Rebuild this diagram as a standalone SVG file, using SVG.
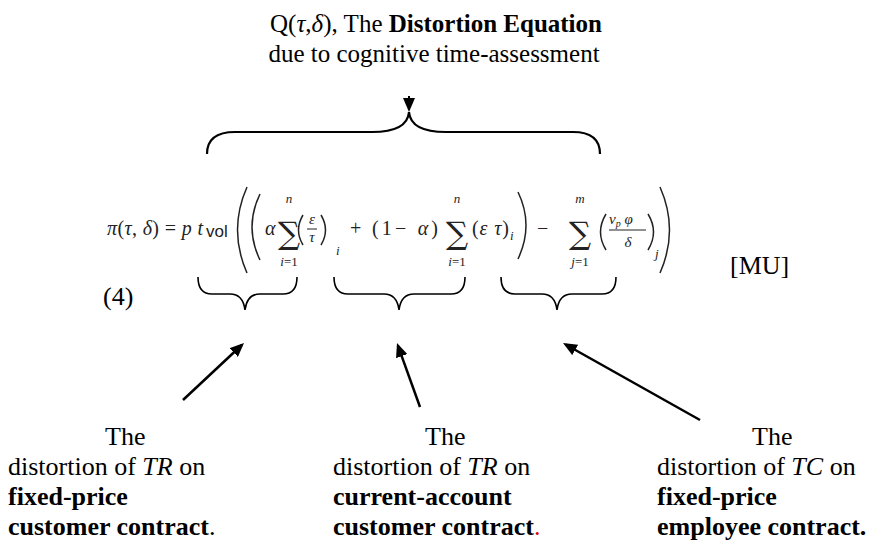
<svg xmlns="http://www.w3.org/2000/svg" width="874" height="540" viewBox="0 0 874 540">
<defs>
<style>
.t{font-family:"Liberation Serif","Times New Roman","DejaVu Serif",serif;font-size:26px;fill:#000}
.tt{font-size:25px}
.b{font-weight:bold}
.i{font-style:italic}
.m{font-family:"Liberation Serif","Times New Roman","DejaVu Serif",serif;font-size:20px;fill:#222}
.ms{font-family:"Liberation Serif","Times New Roman","DejaVu Serif",serif;font-size:13px;fill:#222}
.mf{font-family:"Liberation Serif","Times New Roman","DejaVu Serif",serif;font-size:15px;fill:#222}
.sig{font-family:"DejaVu Serif","Liberation Serif",serif;font-size:31px;fill:#222}
.brace{fill:none;stroke:#000;stroke-width:1.6}
.paren{fill:none;stroke:#222;stroke-width:1.5}
.arr{fill:none;stroke:#000;stroke-width:2.5}
</style>
<marker id="ah" viewBox="0 0 14 12" refX="11" refY="6" markerWidth="14" markerHeight="12" markerUnits="userSpaceOnUse" orient="auto">
<path d="M0,0 L14,6 L0,12 z" fill="#000"/>
</marker>
</defs>
<rect width="874" height="540" fill="#fff"/>

<g id="title">
<text class="t tt" x="436" y="32" text-anchor="middle">Q(<tspan class="i">τ</tspan>,<tspan class="i">δ</tspan>), The <tspan class="b">Distortion Equation</tspan></text>
<text class="t tt" x="434" y="62" text-anchor="middle">due to cognitive time-assessment</text>
</g>

<g id="top-brace">
<path class="brace" style="stroke-width:2.2" d="M207,154 Q207,132 235,132 L372,132 C398,132 408,124 409,112 C410,124 420,132 446,132 L573,132 Q600,132 600,154"/>
</g>

<g id="equation" transform="translate(0,3)">
<text class="m" x="107" y="232" textLength="96" lengthAdjust="spacing"><tspan class="i">π</tspan>(<tspan class="i">τ</tspan>, <tspan class="i">δ</tspan>) = <tspan class="i">p t</tspan></text>
<text x="206" y="234" style="font-family:'Liberation Sans',Arial,sans-serif;font-size:17px;fill:#222">vol</text>
<path class="paren" d="M247,184 Q228,227 247,270"/>
<path class="paren" d="M260,191 Q244,224 260,257"/>
<text class="m i" x="265" y="232">α</text>
<text class="ms i" x="289" y="200" text-anchor="middle">n</text>
<text class="sig" x="289" y="241" text-anchor="middle">∑</text>
<text class="ms" x="289" y="263" text-anchor="middle"><tspan class="i">i</tspan>=1</text>
<path class="paren" d="M303,212 Q294,227 303,242"/>
<text class="mf i" x="312" y="221" text-anchor="middle">ε</text>
<line x1="307" y1="226" x2="317" y2="226" stroke="#222" stroke-width="1"/>
<text class="mf i" x="312" y="239" text-anchor="middle">τ</text>
<path class="paren" d="M321,212 Q330,227 321,242"/>
<text class="ms i" x="336" y="252">i</text>
<text class="m" x="350" y="232">+</text>
<text class="m" x="372" y="232" textLength="66" lengthAdjust="spacing">(1−  <tspan class="i">α</tspan>)</text>
<text class="ms i" x="457" y="200" text-anchor="middle">n</text>
<text class="sig" x="457" y="241" text-anchor="middle">∑</text>
<text class="ms" x="457" y="263" text-anchor="middle"><tspan class="i">i</tspan>=1</text>
<text class="m" x="472" y="232" textLength="37" lengthAdjust="spacing">(<tspan class="i">ε τ</tspan>)</text>
<text class="ms i" x="510" y="237">i</text>
<path class="paren" d="M518,189 Q534,222 518,256"/>
<text class="m" x="537" y="232">−</text>
<text class="ms i" x="580" y="200" text-anchor="middle">m</text>
<text class="sig" x="580" y="241" text-anchor="middle">∑</text>
<text class="ms" x="580" y="263" text-anchor="middle"><tspan class="i">j</tspan>=1</text>
<path class="paren" d="M606,211 Q595,229 606,247"/>
<text class="mf i" x="609" y="221">ν<tspan style="font-size:10px" dy="3">p</tspan><tspan dy="-3"> φ</tspan></text>
<line x1="609" y1="227" x2="646" y2="227" stroke="#222" stroke-width="1"/>
<text class="mf i" x="628" y="244" text-anchor="middle">δ</text>
<path class="paren" d="M648,211 Q659,229 648,247"/>
<text class="ms i" x="655" y="255">j</text>
<path class="paren" d="M660,184 Q679,227 660,270"/>
</g>

<g id="eq-number"><text class="t" x="103" y="305">(4)</text></g>
<g id="unit"><text class="t" x="730" y="274">[MU]</text></g>

<g id="brace-1"><path class="brace" d="M198,277 Q198,294 212,294 L230,294 Q243,294 245,310 Q247,294 260,294 L283,294 Q297,294 297,277"/></g>
<g id="brace-2"><path class="brace" d="M334,277 Q334,294 348,294 L384,294 Q397,294 399,310 Q401,294 414,294 L451,294 Q465,294 465,277"/></g>
<g id="brace-3"><path class="brace" d="M501,277 Q501,294 515,294 L542,294 Q555,294 557,310 Q559,294 572,294 L602,294 Q616,294 616,277"/></g>

<g id="connectors">
<line class="arr" style="stroke-width:2" x1="409" y1="96" x2="409" y2="109" marker-end="url(#ah)"/>
<line class="arr" x1="183" y1="400" x2="241.8" y2="345" marker-end="url(#ah)"/>
<line class="arr" x1="420" y1="407" x2="398" y2="345.8" marker-end="url(#ah)"/>
<line class="arr" x1="700" y1="420" x2="565.6" y2="344.5" marker-end="url(#ah)"/>
</g>

<g id="label-1">
<text class="t" x="105" y="445">The</text>
<text class="t" x="8" y="475">distortion of <tspan class="i">TR</tspan> on</text>
<text class="t b" x="8" y="505">fixed-price</text>
<text class="t" x="8" y="535"><tspan class="b">customer contract</tspan>.</text>
</g>
<g id="label-2">
<text class="t" x="425" y="445">The</text>
<text class="t" x="333" y="475">distortion of <tspan class="i">TR</tspan> on</text>
<text class="t b" x="333" y="505">current-account</text>
<text class="t" x="333" y="535"><tspan class="b">customer contract</tspan><tspan fill="#e00000">.</tspan></text>
</g>
<g id="label-3">
<text class="t" x="752" y="445">The</text>
<text class="t" x="657" y="475">distortion of <tspan class="i">TC</tspan> on</text>
<text class="t b" x="657" y="505">fixed-price</text>
<text class="t b" x="657" y="535">employee contract.</text>
</g>
</svg>
